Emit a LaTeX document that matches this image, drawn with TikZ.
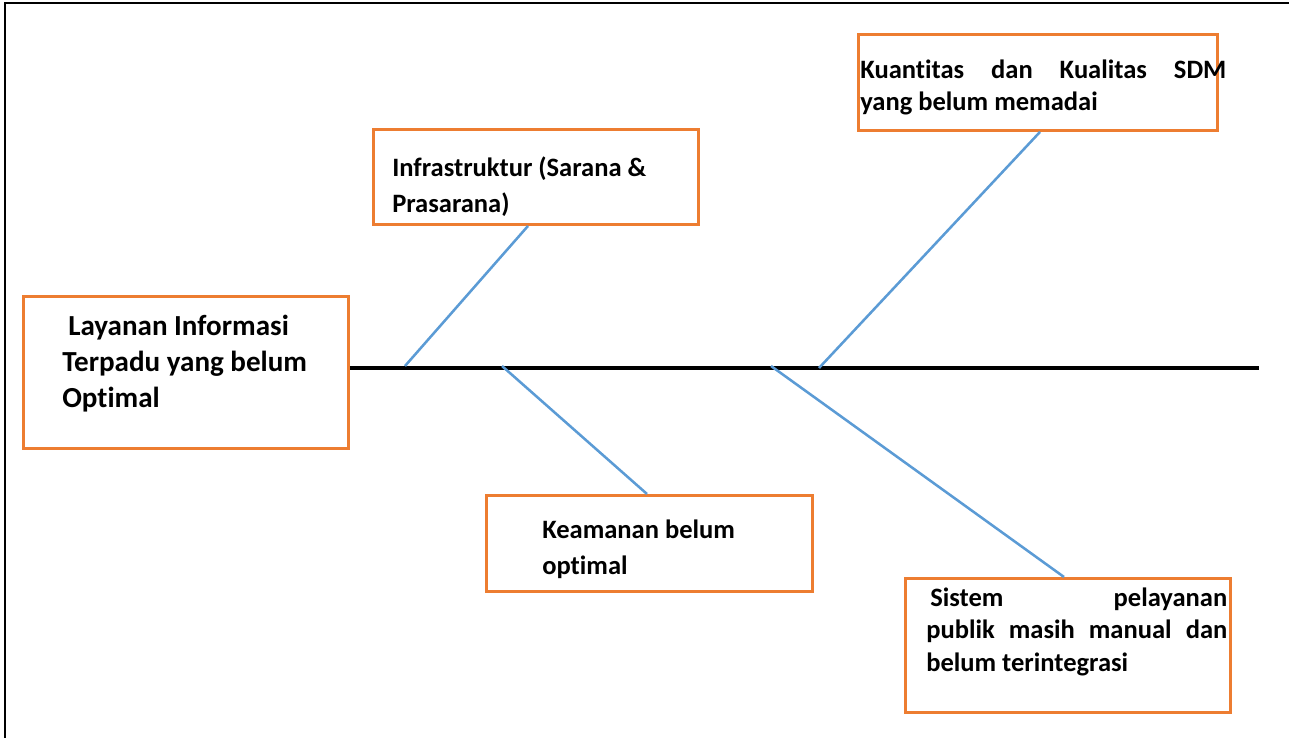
\documentclass[tikz,border=0pt]{standalone}
\usepackage{fontspec}
\setmainfont[Ligatures=NoCommon]{Carlito}
\definecolor{boxorange}{HTML}{ED7D31}
\definecolor{boneblue}{HTML}{5B9BD5}
\begin{document}
\begin{tikzpicture}[x=0.75pt,y=-0.75pt,
  box/.style={draw=boxorange,line width=2.2pt,inner sep=0,anchor=north west},
  label/.style={inner sep=0,anchor=base west,font=\bfseries\fontsize{19.9}{#1}\selectfont},
  bone/.style={draw=boneblue,line width=1.9pt},
  spine/.style={draw=black,line width=2.4pt},
  frame/.style={draw=black,line width=1.4pt}]
\useasboundingbox (0,0) rectangle (1289,738);
% frame
\coordinate (ftl) at (5,3);
\coordinate (fbl) at (5,738);
\coordinate (ftr) at (1289,3);
\draw[frame] (fbl) -- (ftl) -- (ftr);
% boxes
\node[box,minimum width=325*0.75pt,minimum height=152*0.75pt] (main) at (22,295) {};
\node[box,minimum width=325*0.75pt,minimum height=95*0.75pt] (infra) at (372,128) {};
\node[box,minimum width=359*0.75pt,minimum height=96*0.75pt] (sdm) at (857,33) {};
\node[box,minimum width=326*0.75pt,minimum height=96*0.75pt] (aman) at (485,494) {};
\node[box,minimum width=325*0.75pt,minimum height=134*0.75pt] (sistem) at (904,577) {};
% texts
\node[label=27pt,text width=290*0.75pt,align=flush left,font=\bfseries\fontsize{21.8}{27}\selectfont] (tmain) at (62,335)
  {\hspace*{4.5pt}Layanan Informasi\\Terpadu yang belum\\Optimal};
\node[label=26.3pt,text width=300*0.75pt,align=flush left] (tinfra) at (392,177)
  {Infrastruktur (Sarana \&\\Prasarana)};
\node[label=23.3pt,text width=366*0.75pt,align=justify] (tsdm) at (860,79)
  {Kuantitas dan Kualitas SDM\linebreak yang belum memadai};
\node[label=27pt,text width=260*0.75pt,align=flush left] (taman) at (542,538)
  {Keamanan belum\\optimal};
\node[label=24.4pt,text width=301*0.75pt,align=justify] (tsistem) at (926,606)
  {\hspace*{3pt}Sistem pelayanan\linebreak publik masih manual dan\linebreak belum terintegrasi};
% spine
\coordinate (spineend) at (1259,368);
\draw[spine] (main.east |- spineend) -- (spineend);
% bone attachment points
\coordinate (b1) at (405,366);
\coordinate (b2) at (502,366);
\coordinate (b3) at (771,366);
\coordinate (b4) at (819,368);
\draw[bone] (b1) -- (infra.south west -| 528,0);
\draw[bone] (b2) -- (aman.north west -| 647,0);
\draw[bone] (b3) -- (sistem.north west -| 1064,0);
\draw[bone] (b4) -- (sdm.south west -| 1040,0);
\end{tikzpicture}
\end{document}
